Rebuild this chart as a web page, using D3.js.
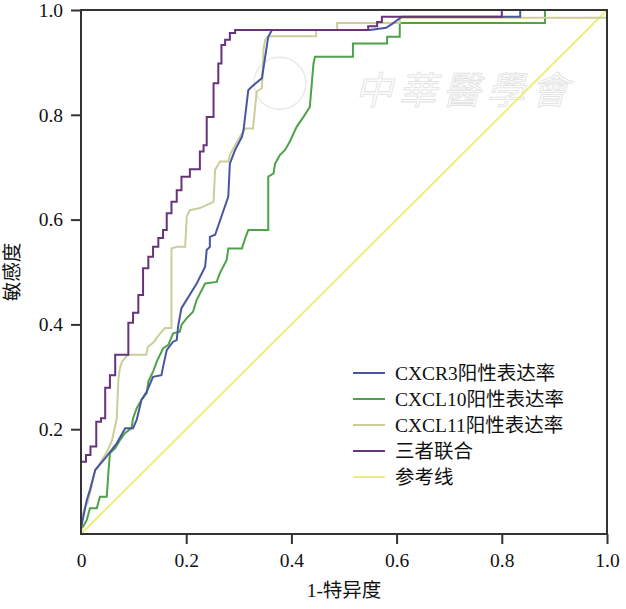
<!DOCTYPE html>
<html>
<head>
<meta charset="utf-8">
<script src="https://cdn.jsdelivr.net/npm/d3@7"></script>
<style>
  body { margin: 0; background: #fff; }
  svg text { font-family: "Liberation Serif", "Times New Roman", "Noto Sans CJK SC", serif; }
</style>
</head>
<body>
<div id="viz"></div>
<script>
// ROC curves, values (1-specificity, sensitivity)
const cxcr3Fpr = [0, 0, 0.004, 0.011, 0.017, 0.027, 0.046, 0.068, 0.084, 0.099, 0.106, 0.115, 0.125, 0.137, 0.153, 0.156, 0.163, 0.175, 0.182, 0.185, 0.191, 0.220, 0.236, 0.239, 0.245, 0.245, 0.255, 0.267, 0.280, 0.283, 0.293, 0.306, 0.309, 0.318, 0.325, 0.344, 0.356, 0.363, 0.549, 0.580, 0.591, 0.610, 0.835, 0.835, 1];
const cxcr3Tpr = [0, 0.011, 0.031, 0.065, 0.084, 0.122, 0.145, 0.173, 0.202, 0.202, 0.218, 0.256, 0.272, 0.300, 0.303, 0.319, 0.351, 0.367, 0.370, 0.399, 0.431, 0.478, 0.510, 0.542, 0.548, 0.567, 0.571, 0.606, 0.644, 0.707, 0.733, 0.758, 0.771, 0.847, 0.854, 0.870, 0.949, 0.962, 0.962, 0.966, 0.973, 0.987, 0.987, 1, 1];

const cxcl10Fpr = [0, 0, 0.004, 0.011, 0.017, 0.030, 0.036, 0.049, 0.052, 0.055, 0.065, 0.074, 0.084, 0.096, 0.099, 0.106, 0.115, 0.125, 0.128, 0.137, 0.144, 0.156, 0.166, 0.175, 0.188, 0.191, 0.201, 0.213, 0.220, 0.236, 0.258, 0.264, 0.277, 0.280, 0.306, 0.312, 0.318, 0.356, 0.356, 0.366, 0.369, 0.378, 0.388, 0.397, 0.410, 0.423, 0.435, 0.442, 0.445, 0.517, 0.517, 0.582, 0.582, 0.606, 0.606, 0.882, 0.882, 1];
const cxcl10Tpr = [0, 0.011, 0.014, 0.027, 0.049, 0.049, 0.071, 0.071, 0.116, 0.154, 0.164, 0.179, 0.193, 0.202, 0.221, 0.240, 0.256, 0.269, 0.291, 0.310, 0.329, 0.354, 0.361, 0.383, 0.386, 0.399, 0.412, 0.424, 0.447, 0.478, 0.481, 0.498, 0.523, 0.545, 0.545, 0.564, 0.580, 0.580, 0.682, 0.688, 0.707, 0.723, 0.733, 0.749, 0.777, 0.796, 0.815, 0.898, 0.911, 0.911, 0.936, 0.936, 0.949, 0.949, 0.975, 0.975, 1, 1];

const cxcl11Fpr = [0, 0.002, 0.007, 0.013, 0.020, 0.027, 0.036, 0.051, 0.059, 0.068, 0.071, 0.074, 0.078, 0.089, 0.124, 0.127, 0.139, 0.146, 0.156, 0.160, 0.172, 0.172, 0.182, 0.198, 0.201, 0.207, 0.226, 0.252, 0.255, 0.264, 0.280, 0.283, 0.293, 0.302, 0.312, 0.327, 0.334, 0.344, 0.347, 0.350, 0.356, 0.447, 0.447, 0.487, 0.487, 0.606, 0.606, 1, 1];
const cxcl11Tpr = [0, 0.031, 0.050, 0.061, 0.090, 0.122, 0.135, 0.160, 0.179, 0.221, 0.294, 0.317, 0.329, 0.342, 0.342, 0.357, 0.367, 0.377, 0.389, 0.393, 0.393, 0.545, 0.548, 0.548, 0.606, 0.618, 0.622, 0.634, 0.695, 0.711, 0.711, 0.723, 0.742, 0.758, 0.774, 0.774, 0.844, 0.851, 0.924, 0.943, 0.950, 0.950, 0.962, 0.962, 0.975, 0.975, 0.985, 0.985, 1];

// combined model is a pure staircase: x of each jump, y after the jump
const comboFpr = [0, 0, 0.0095, 0.018, 0.029, 0.038, 0.046, 0.055, 0.065, 0.090, 0.099, 0.109, 0.118, 0.128, 0.137, 0.147, 0.156, 0.163, 0.172, 0.182, 0.191, 0.207, 0.226, 0.233, 0.239, 0.252, 0.261, 0.267, 0.274, 0.283, 0.293, 0.546, 0.563, 0.572, 0.800, 1];
const comboTpr = [0, 0.138, 0.151, 0.167, 0.214, 0.221, 0.279, 0.303, 0.342, 0.403, 0.422, 0.456, 0.507, 0.529, 0.548, 0.565, 0.580, 0.612, 0.634, 0.656, 0.682, 0.696, 0.730, 0.742, 0.796, 0.860, 0.898, 0.933, 0.943, 0.956, 0.962, 0.969, 0.977, 0.987, 1, 1];

const refFpr = [0, 1];
const refTpr = [0, 1];

const seriesNames = ["CXCR3阳性表达率", "CXCL10阳性表达率", "CXCL11阳性表达率", "三者联合", "参考线"];
const seriesColors = ["#4a55a2", "#4ea24a", "#cdcd9c", "#67337a", "#eeee7c"];

const xTicks = [0, 0.2, 0.4, 0.6, 0.8, 1.0];
const yTicks = [0.2, 0.4, 0.6, 0.8, 1.0];

const width = 626, height = 609;
const margin = { top: 10, right: 19, bottom: 75, left: 81 };
const iw = width - margin.left - margin.right;
const ih = height - margin.top - margin.bottom;

const svg = d3.select("#viz").append("svg")
  .attr("width", width)
  .attr("height", height)
  .style("background", "#fff");

const g = svg.append("g").attr("transform", `translate(${margin.left},${margin.top})`);

const x = d3.scaleLinear().domain([0, 1]).range([0, iw]);
const y = d3.scaleLinear().domain([0, 1]).range([ih, 0]);

// faint watermark
const wm = g.append("g").attr("opacity", 0.4);
wm.append("circle")
  .attr("cx", x(0.378)).attr("cy", y(0.86))
  .attr("r", 26)
  .attr("fill", "none")
  .attr("stroke", "#c9c9c9")
  .attr("stroke-width", 1.5);
wm.append("text")
  .attr("x", x(0.52)).attr("y", y(0.82))
  .attr("font-size", 38)
  .attr("letter-spacing", 6)
  .attr("fill", "#f6f6f6")
  .attr("stroke", "#b5b5b5")
  .attr("stroke-width", 0.8)
  .style("font-style", "italic")
  .text("中華醫學會");

const series = [
  { fpr: cxcr3Fpr, tpr: cxcr3Tpr, curve: d3.curveLinear },
  { fpr: cxcl10Fpr, tpr: cxcl10Tpr, curve: d3.curveLinear },
  { fpr: cxcl11Fpr, tpr: cxcl11Tpr, curve: d3.curveLinear },
  { fpr: comboFpr, tpr: comboTpr, curve: d3.curveStepAfter },
  { fpr: refFpr, tpr: refTpr, curve: d3.curveLinear }
];

// draw reference first so ROC curves sit on top
const drawOrder = [4, 1, 2, 0, 3];
for (const i of drawOrder) {
  const s = series[i];
  const pts = s.fpr.map((v, j) => [v, s.tpr[j]]);
  const line = d3.line().x(d => x(d[0])).y(d => y(d[1])).curve(s.curve);
  g.append("path")
    .datum(pts)
    .attr("fill", "none")
    .attr("stroke", seriesColors[i])
    .attr("stroke-width", 2)
    .attr("d", line);
}

// frame
g.append("rect")
  .attr("width", iw).attr("height", ih)
  .attr("fill", "none")
  .attr("stroke", "#333")
  .attr("stroke-width", 2);

// axes
const xAxis = g.append("g")
  .attr("transform", `translate(0,${ih})`)
  .call(d3.axisBottom(x).tickValues(xTicks).tickSize(10).tickPadding(9)
    .tickFormat(d => d === 0 ? "0" : d3.format(".1f")(d)));
const yAxis = g.append("g")
  .call(d3.axisLeft(y).tickValues(yTicks).tickSize(10).tickPadding(8)
    .tickFormat(d3.format(".1f")));

for (const ax of [xAxis, yAxis]) {
  ax.select(".domain").remove();
  ax.selectAll(".tick line").attr("stroke", "#333").attr("stroke-width", 2);
  ax.selectAll(".tick text").attr("fill", "#111").attr("font-size", 19.5)
    .style("font-family", "'Liberation Serif', serif");
}
xAxis.selectAll(".tick").filter(d => d === 0).select("line").remove();

// axis titles
svg.append("text")
  .attr("x", margin.left + iw / 2)
  .attr("y", 597)
  .attr("text-anchor", "middle")
  .attr("font-size", 19.5)
  .attr("fill", "#111")
  .text("1-特异度");

svg.append("text")
  .attr("transform", `translate(19,${margin.top + ih / 2}) rotate(-90)`)
  .attr("text-anchor", "middle")
  .attr("font-size", 19.5)
  .attr("fill", "#111")
  .text("敏感度");

// legend
const legend = svg.append("g").attr("transform", "translate(353,373)");
seriesNames.forEach((name, i) => {
  const row = legend.append("g").attr("transform", `translate(0,${i * 26})`);
  row.append("line")
    .attr("x1", 0).attr("x2", 32)
    .attr("stroke", seriesColors[i])
    .attr("stroke-width", 2);
  row.append("text")
    .attr("x", 42)
    .attr("dy", "0.35em")
    .attr("font-size", 19.5)
    .attr("fill", "#111")
    .text(name);
});
</script>
</body>
</html>
